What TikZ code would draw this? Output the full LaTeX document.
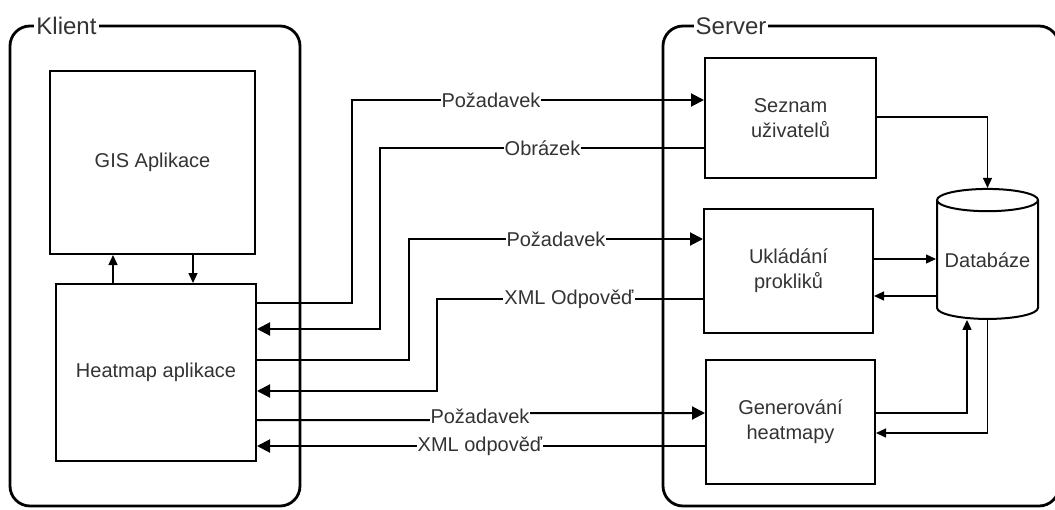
\documentclass[tikz,border=0pt]{standalone}
\usepackage{fontspec}
\setmainfont{Liberation Sans}
\usetikzlibrary{arrows.meta,shapes.geometric}
\definecolor{txt}{HTML}{333333}
\begin{document}
\begin{tikzpicture}[x=1pt,y=-1pt,
  container/.style={draw, line width=2.8pt, rounded corners=20pt, inner sep=0pt},
  title/.style={fill=white, text=txt, inner sep=2pt, font=\fontsize{24}{28}\selectfont},
  boxnode/.style={draw, line width=2pt, text=txt, align=center, inner sep=0pt, font=\fontsize{20}{25}\selectfont},
  lbl/.style={fill=white, text=txt, inner sep=1pt, font=\fontsize{20}{24}\selectfont},
  big/.style={line width=2pt, -{Triangle[length=13pt,width=13pt]}},
  small/.style={line width=1.3pt, -{Triangle[length=10pt,width=9pt]}},
]
\useasboundingbox (0,0) rectangle (1055,509);
% containers
\node[container, minimum width=290pt, minimum height=480pt] (klient) at (155,266) {};
\node[container, minimum width=396pt, minimum height=480pt] (server) at (861,266) {};
\node[title] (klientlbl) at (66.5,26) {Klient};
\node[title] (serverlbl) at (731,26) {Server};
% boxes
\node[boxnode, minimum width=205pt, minimum height=183pt] (gis) at (152.5,162.5) {GIS Aplikace};
\node[boxnode, minimum width=200pt, minimum height=177pt] (hm) at (156,372.5) {Heatmap aplikace};
\node[boxnode, minimum width=171pt, minimum height=120pt] (sez) at (790.5,118) {Seznam\\uživatelů};
\node[boxnode, minimum width=169pt, minimum height=124pt] (ukl) at (788.5,271) {Ukládání\\prokliků};
\node[boxnode, minimum width=169pt, minimum height=124pt] (gen) at (790.5,422) {Generování\\heatmapy};
\node[cylinder, shape border rotate=90, aspect=0.26, draw, line width=2pt, inner sep=0pt,
      minimum width=101pt, minimum height=130pt, text=txt, font=\fontsize{20}{24}\selectfont] (db) at (987.5,260) {Databáze};
% GIS <-> heatmap
\draw[small] (hm.north -| 113,0) -- (gis.south -| 113,0);
\draw[small] (gis.south -| 193,0) -- (hm.north -| 193,0);
% client <-> server
\draw[big] (hm.east |- 0,303) -| (352,100) -- (sez.west |- 0,100);
\draw[big] (sez.west |- 0,148) -| (380,329) -- (hm.east |- 0,329);
\draw[big] (hm.east |- 0,360) -| (409,239) -- (ukl.west |- 0,239);
\draw[big] (ukl.west |- 0,299) -| (437,391) -- (hm.east |- 0,391);
\draw[big] (hm.east |- 0,420) -- (430,420) -- (530,413) -- (gen.west |- 0,413);
\draw[big] (gen.west |- 0,446) -- (hm.east |- 0,446);
\node[lbl] (l1) at (491,100) {Požadavek};
\node[lbl] (l2) at (542.5,148) {Obrázek};
\node[lbl] (l3) at (556,239) {Požadavek};
\node[lbl] (l4) at (569,299) {XML Odpověď};
\node[lbl] (l5) at (480,416) {Požadavek};
\node[lbl] (l6) at (480,446) {XML odpověď};
% server internal
\draw[small] (sez.east |- 0,117) -| (db.north);
\draw[small] (ukl.east |- 0,259) -- (db.west |- 0,259);
\draw[small] (db.west |- 0,296) -- (ukl.east |- 0,296);
\draw[small] (gen.east |- 0,413) -| (db.south -| 967,0);
\draw[small] (db.south) |- (gen.east |- 0,433);
\end{tikzpicture}
\end{document}
